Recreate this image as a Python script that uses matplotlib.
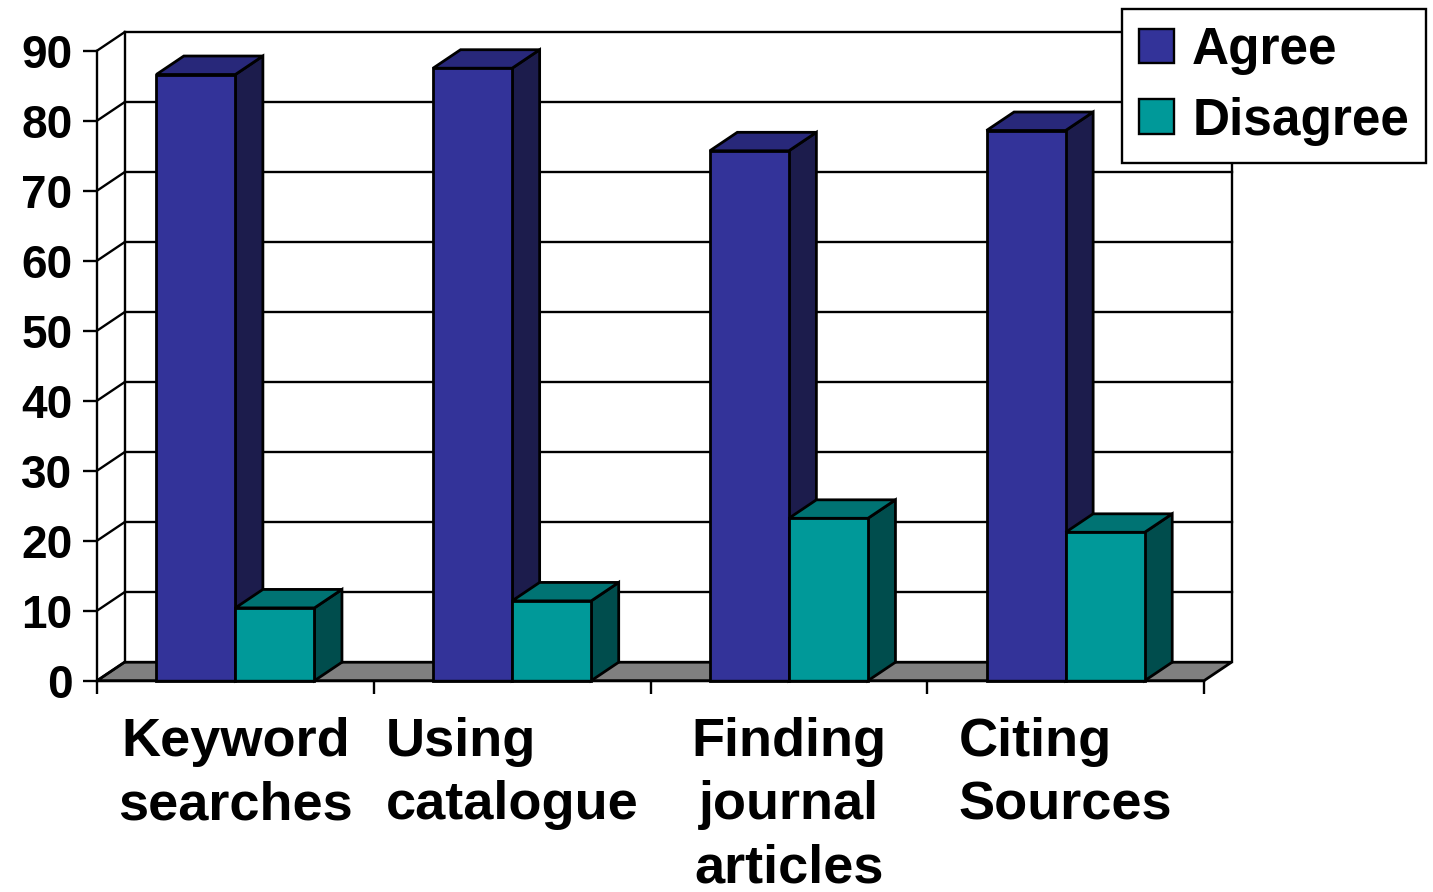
import matplotlib.pyplot as plt
from matplotlib.patches import Polygon, Patch

plt.rcParams["font.family"] = ["Liberation Sans", "DejaVu Sans"]
plt.rcParams["font.weight"] = "bold"

categorias = ["Keyword\nsearches", "Using\ncatalogue",
              "Finding\njournal\narticles", "Citing\nSources"]
alineacion = ["center", "left", "center", "left"]
agree      = [86.6, 87.5, 75.7, 78.6]
disagree   = [10.4, 11.4, 23.2, 21.2]
yticks     = list(range(0, 91, 10))

# colores de cara frontal, superior y lateral
col_agree    = ("#333399", "#28287a", "#1c1c4c")
col_disagree = ("#009999", "#007373", "#004d4d")
col_piso     = "#808080"

ANCHO = 0.2857          # ancho de cada barra en unidades de categoria
DX, DY = 0.0994, 2.64   # desplazamiento de profundidad
LW = 1.7

fig = plt.figure(figsize=(14.33, 8.92), dpi=100)
ax = fig.add_axes([97 / 1433, 211.3 / 892, 1107 / 1433, 630 / 892])
ax.set_xlim(0, 4)
ax.set_ylim(0, 90)
ax.patch.set_visible(False)

n = len(categorias)


def poly(pts, color, z):
    ax.add_patch(Polygon(pts, closed=True, facecolor=color, edgecolor="black",
                         linewidth=2.0, joinstyle="miter", clip_on=False, zorder=z))


# piso gris
poly([(0, 0), (n, 0), (n + DX, DY), (DX, DY)], col_piso, 1)

# pared del fondo: lineas de cuadricula y diagonales de la pared izquierda
for v in yticks[1:]:
    ax.plot([DX, n + DX], [v + DY, v + DY], color="black", lw=LW,
            clip_on=False, zorder=1)
for v in yticks:
    ax.plot([0, DX], [v, v + DY], color="black", lw=LW, clip_on=False, zorder=1)
ax.plot([DX, DX], [DY, yticks[-1] + DY], color="black", lw=LW, clip_on=False, zorder=1)
ax.plot([n + DX, n + DX], [DY, yticks[-1] + DY], color="black", lw=LW,
        clip_on=False, zorder=1)


def caja(x0, v, colores, z):
    frente, arriba, lado = colores
    poly([(x0 + ANCHO, 0), (x0 + ANCHO + DX, DY), (x0 + ANCHO + DX, v + DY),
          (x0 + ANCHO, v)], lado, z)
    poly([(x0, v), (x0 + ANCHO, v), (x0 + ANCHO + DX, v + DY), (x0 + DX, v + DY)],
         arriba, z)
    poly([(x0, 0), (x0 + ANCHO, 0), (x0 + ANCHO, v), (x0, v)], frente, z)


for i in range(n):
    centro = i + 0.5
    caja(centro - ANCHO, agree[i], col_agree, 3)
    caja(centro, disagree[i], col_disagree, 4)

# ejes frontales
for s in ["top", "right"]:
    ax.spines[s].set_visible(False)
for s in ["left", "bottom"]:
    ax.spines[s].set_linewidth(LW)
    ax.spines[s].set_zorder(5)

ax.set_yticks(yticks)
ax.set_yticklabels([str(t) for t in yticks], fontsize=33, fontweight="bold")
ax.tick_params(axis="y", length=10, width=LW, pad=7.7)
ax.set_xticks(range(n + 1))
ax.set_xticklabels([])
ax.tick_params(axis="x", length=9.4, width=LW)

for i, (cat, al) in enumerate(zip(categorias, alineacion)):
    ax.annotate(cat, xy=(i + 0.5, 0), xytext=(0, -26), textcoords="offset points",
                ha="center", va="top", multialignment=al, linespacing=1.34,
                fontsize=39, fontweight="bold", annotation_clip=False)

manejadores = [Patch(facecolor=col_agree[0], edgecolor="black", linewidth=LW, label="Agree"),
               Patch(facecolor=col_disagree[0], edgecolor="black", linewidth=LW, label="Disagree")]
leg = fig.legend(handles=manejadores, loc="upper right",
                 bbox_to_anchor=(1426 / 1433, 1 - 9 / 892), borderaxespad=0,
                 prop={"weight": "bold", "size": 37},
                 fancybox=False, framealpha=1, edgecolor="black",
                 handlelength=0.68, handleheight=0.65, handletextpad=0.35,
                 labelspacing=0.42, borderpad=0.33)
leg.get_frame().set_linewidth(LW)

fig.savefig("out.png", dpi=100)
